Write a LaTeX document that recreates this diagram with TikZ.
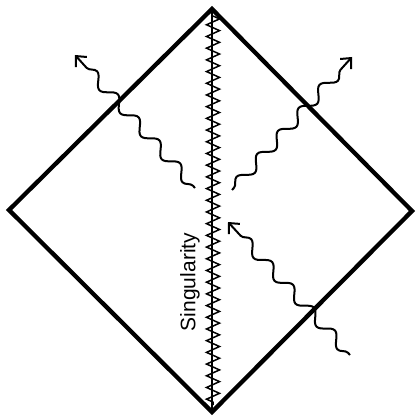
\documentclass[tikz,border=0pt]{standalone}
\usepackage{fontspec}
\setsansfont{Liberation Sans}
\usetikzlibrary{decorations.pathmorphing,arrows.meta}
\begin{document}
\begin{tikzpicture}[x=1pt,y=-1pt,
  edge/.style={line width=4.3pt, line join=miter},
  wave/.style={line width=2pt, decorate,
    decoration={snake, amplitude=5.5pt, segment length=31pt, pre length=3pt, post length=8pt},
    -{Straight Barb[length=8pt,width=15pt]}},
  sing/.style={line width=1.5pt, decorate,
    decoration={zigzag, amplitude=6.5pt, segment length=11.7pt}},
  lbl/.style={rotate=90, font=\sffamily\fontsize{21}{25}\selectfont, inner sep=0pt}]
\useasboundingbox (0,0) rectangle (415,419);
\coordinate (T) at (212,9);
\coordinate (R) at (412,211);
\coordinate (B) at (212,412);
\coordinate (L) at (9,210);
\coordinate (Ts) at (213,16);
\coordinate (Bs) at (213,405);
\draw[edge] (T) -- (R) -- (B) -- (L) -- cycle;
\draw[line width=1.2pt] (T) -- (B);
\draw[sing] (Ts) -- (Bs);
\node[lbl] (label) at (190,282) {Singularity};
\coordinate (a1) at (195,188);
\coordinate (a1t) at (75,55);
\coordinate (a2) at (232,190);
\coordinate (a2t) at (352,57);
\coordinate (a3) at (350,355);
\coordinate (a3t) at (228,222);
\draw[wave] (a1) -- (a1t);
\draw[wave] (a2) -- (a2t);
\draw[wave] (a3) -- (a3t);
\end{tikzpicture}
\end{document}
